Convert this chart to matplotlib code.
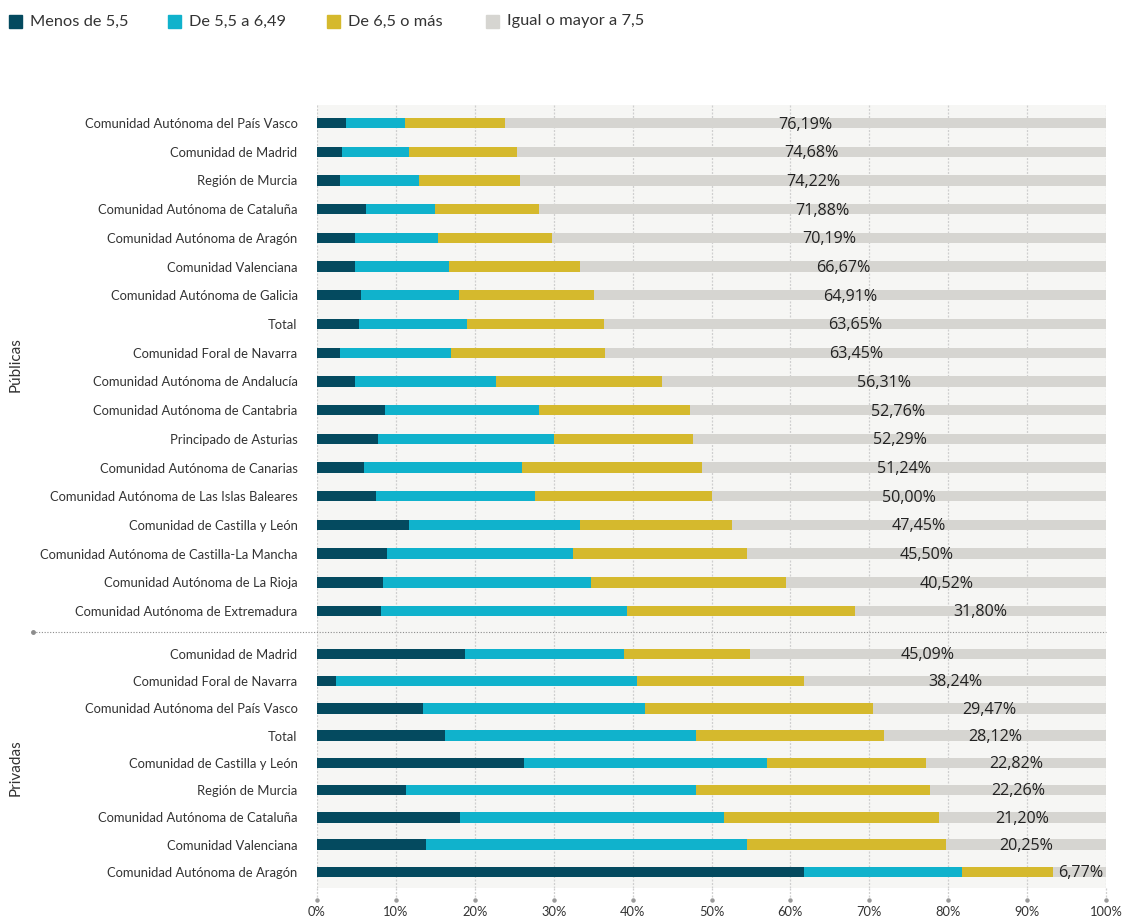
import matplotlib.pyplot as plt
from matplotlib.lines import Line2D
from matplotlib.patches import Rectangle
from matplotlib.transforms import blended_transform_factory

plt.rcParams['font.family'] = ['Lato', 'DejaVu Sans']

# segmentos por fila: menos de 5,5 / 5,5-6,49 / 6,5 o más / >= 7,5
series_names = ['Menos de 5,5', 'De 5,5 a 6,49', 'De 6,5 o más', 'Igual o mayor a 7,5']
colors = ['#044a5f', '#10b2cc', '#d5b92d', '#d6d5d1']

pub_labels = ['Comunidad Autónoma del País Vasco', 'Comunidad de Madrid', 'Región de Murcia',
              'Comunidad Autónoma de Cataluña', 'Comunidad Autónoma de Aragón',
              'Comunidad Valenciana', 'Comunidad Autónoma de Galicia', 'Total',
              'Comunidad Foral de Navarra', 'Comunidad Autónoma de Andalucía',
              'Comunidad Autónoma de Cantabria', 'Principado de Asturias',
              'Comunidad Autónoma de Canarias', 'Comunidad Autónoma de Las Islas Baleares',
              'Comunidad de Castilla y León', 'Comunidad Autónoma de Castilla-La Mancha',
              'Comunidad Autónoma de La Rioja', 'Comunidad Autónoma de Extremadura']
pub_low = [3.67, 3.16, 2.90, 6.20, 4.80, 4.80, 5.60, 5.30, 2.90,
           4.80, 8.60, 7.70, 6.00, 7.50, 11.70, 8.90, 8.40, 8.10]
pub_mid = [7.48, 8.50, 10.00, 8.80, 10.50, 11.90, 12.40, 13.70, 14.10,
           17.90, 19.50, 22.30, 20.00, 20.10, 21.60, 23.50, 26.30, 31.20]
pub_high = [12.66, 13.66, 12.88, 13.12, 14.51, 16.63, 17.09, 17.35, 19.55,
            20.99, 19.14, 17.71, 22.76, 22.40, 19.25, 22.10, 24.78, 28.90]
pub_top = [76.19, 74.68, 74.22, 71.88, 70.19, 66.67, 64.91, 63.65, 63.45,
           56.31, 52.76, 52.29, 51.24, 50.00, 47.45, 45.50, 40.52, 31.80]

priv_labels = ['Comunidad de Madrid', 'Comunidad Foral de Navarra',
               'Comunidad Autónoma del País Vasco', 'Total', 'Comunidad de Castilla y León',
               'Región de Murcia', 'Comunidad Autónoma de Cataluña', 'Comunidad Valenciana',
               'Comunidad Autónoma de Aragón']
priv_low = [18.76, 2.40, 13.40, 16.20, 26.20, 11.30, 18.10, 13.80, 61.70]
priv_mid = [20.14, 38.20, 28.20, 31.80, 30.80, 36.70, 33.50, 40.70, 20.05]
priv_high = [16.01, 21.16, 28.93, 23.88, 20.18, 29.74, 27.20, 25.25, 11.48]
priv_top = [45.09, 38.24, 29.47, 28.12, 22.82, 22.26, 21.20, 20.25, 6.77]

xticks = list(range(0, 101, 10))

W, H = 1122, 917
fig = plt.figure(figsize=(W / 100, H / 100), dpi=100)

GRID = dict(color='#cfcfcf', lw=0.9, ls=(0, (1.6, 1.2)))
LBL_FONT = ['Open Sans', 'DejaVu Sans']


def fx(px):
    return px / W


def fy(py):
    return 1 - py / H


def draw_group(ax, labels, segs, bar_h):
    ax.set_facecolor('#f6f6f4')
    n = len(labels)
    y = list(range(n))
    left = [0.0] * n
    for vals, c in zip(segs, colors):
        ax.barh(y, vals, left=left, height=bar_h, color=c, zorder=3)
        left = [l + v for l, v in zip(left, vals)]
    # etiqueta del último tramo, centrada en él
    for i, v in enumerate(segs[-1]):
        txt = f'{v:.2f}%'.replace('.', ',')
        if v < 10:
            ax.text(99.7, i + 0.05, txt, ha='right', va='center', fontsize=11.6,
                    color='#222222', family=LBL_FONT, zorder=4)
        else:
            ax.text(100 - v / 2, i + 0.05, txt, ha='center', va='center', fontsize=11.6,
                    color='#222222', family=LBL_FONT, zorder=4)
    for t in xticks:
        ax.axvline(t, zorder=1, **GRID)
    ax.set_xlim(0, 100)
    ax.set_yticks(y)
    ax.set_yticklabels(labels, fontsize=9.35, color='#333333')
    ax.tick_params(axis='y', length=0, pad=14)
    for s in ax.spines.values():
        s.set_visible(False)


ax1 = fig.add_axes([fx(317), fy(632), fx(789), (632 - 105) / H])
draw_group(ax1, pub_labels, [pub_low, pub_mid, pub_high, pub_top], 0.36)
ax1.set_ylim(17.73, -0.63)
ax1.set_xticks([])

ax2 = fig.add_axes([fx(317), fy(888), fx(789), (888 - 632) / H])
draw_group(ax2, priv_labels, [priv_low, priv_mid, priv_high, priv_top], 0.38)
ax2.set_ylim(8.59, -0.8)
ax2.set_xticks(xticks)
ax2.set_xticklabels([f'{t}%' for t in xticks], fontsize=9.3, color='#333333')
ax2.tick_params(axis='x', length=0, pad=13)

# prolongación de la rejilla bajo el área de dibujo
tr = blended_transform_factory(ax2.transData, ax2.transAxes)
for t in xticks:
    ax2.plot([t, t], [0, -0.047], transform=tr, clip_on=False, **GRID)
    ax2.plot([t], [-0.047], transform=tr, marker='o', ms=2.2, color='#999999',
             clip_on=False)

# separador entre públicas y privadas
fig.add_artist(Line2D([fx(33), fx(1106)], [fy(632), fy(632)], color='#8c8c8c',
                      lw=0.8, ls=(0, (1, 1.5))))
fig.add_artist(Line2D([fx(33)], [fy(632)], marker='o', ms=2.5, color='#8c8c8c'))

fig.text(fx(16), fy(365), 'Públicas', rotation=90, ha='center', va='center',
         fontsize=11, color='#333333')
fig.text(fx(16), fy(768), 'Privadas', rotation=90, ha='center', va='center',
         fontsize=11, color='#333333')

# leyenda
for px, name, c in zip([9, 168, 327, 486], series_names, colors):
    fig.add_artist(Rectangle((fx(px), fy(28)), fx(13), 13 / H, color=c,
                             transform=fig.transFigure))
    fig.text(fx(px + 21), fy(21.5), name, ha='left', va='center', fontsize=11.8,
             color='#333333')

fig.savefig('out.png', dpi=100)
